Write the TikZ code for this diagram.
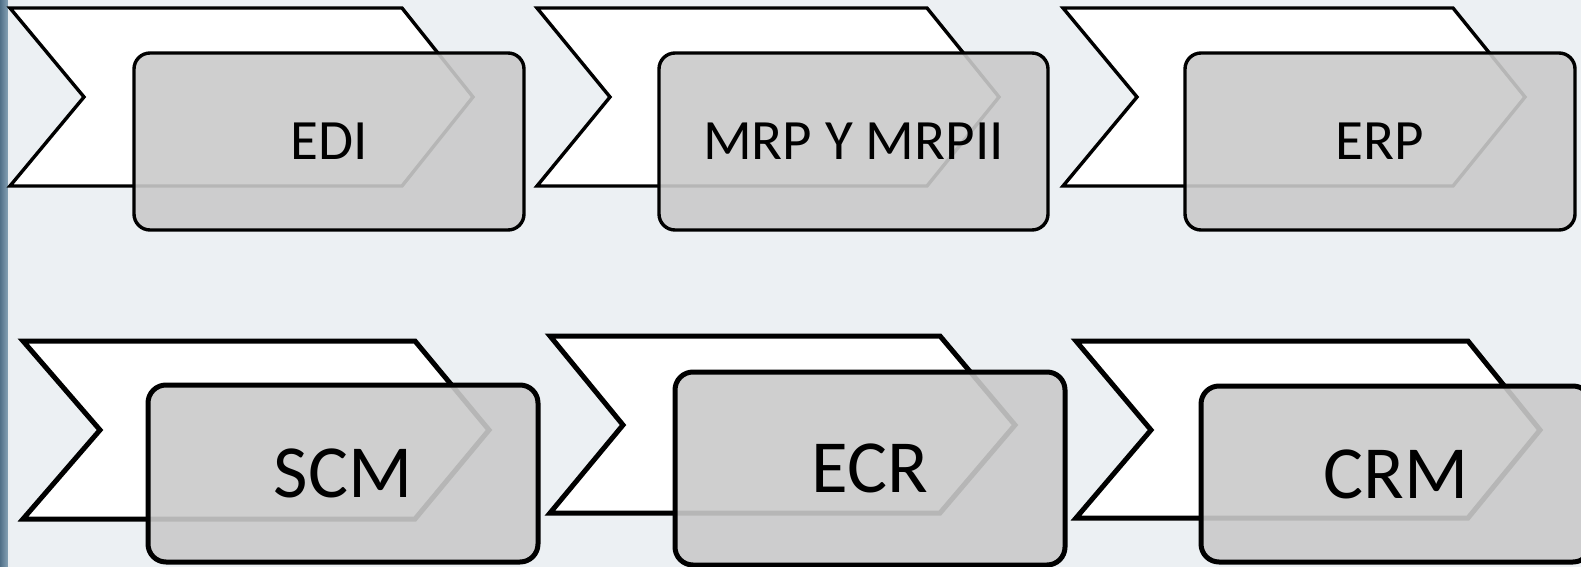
\documentclass[tikz,border=0pt]{standalone}
\usepackage{fontspec}
\setmainfont{Carlito}
\definecolor{bgc}{HTML}{ECF0F3}
\definecolor{stripA}{HTML}{4F6F87}
\definecolor{stripB}{HTML}{86A2B6}
\definecolor{boxc}{RGB}{202,202,202}
\tikzset{
  chevT/.style={draw=black, fill=white, line width=3.4pt, line join=miter},
  chevB/.style={draw=black, fill=white, line width=5pt, line join=miter},
  boxT/.style={draw=black, fill=boxc, fill opacity=0.9, text opacity=1, line width=3.4pt,
    rounded corners=16pt, rectangle, minimum width=390pt, minimum height=177pt, inner sep=0pt,
    font=\fontsize{57}{62}\selectfont},
  boxB/.style={boxT, line width=5pt, rounded corners=18pt, font=\fontsize{75}{80}\selectfont}
}
\begin{document}
\begin{tikzpicture}[x=1pt,y=-1pt]
\useasboundingbox (0,0) rectangle (1581,567);
\fill[bgc] (0,0) rectangle (1581,567);
\shade[left color=stripA, right color=stripB] (0,0) rectangle (8,567);
\fill[white!80!stripB] (8,0) rectangle (9.5,567);
% top row chevrons
\draw[chevT] (10,8) -- (402,8) -- (473,97) -- (402,186) -- (10,186) -- (84,97) -- cycle;
\draw[chevT] (537,8) -- (927,8) -- (999,97) -- (927,186) -- (537,186) -- (610,97) -- cycle;
\draw[chevT] (1063,8) -- (1453,8) -- (1525,97) -- (1453,186) -- (1063,186) -- (1137,97) -- cycle;
% top row boxes
\node[boxT] (r1) at (329,141.5) {EDI};
\node[boxT, minimum width=389pt] (r2) at (853.5,141.5) {MRP Y MRPII};
\node[boxT] (r3) at (1380,141.5) {ERP};
% bottom row chevrons
\draw[chevB] (23,341) -- (415,341) -- (489,430) -- (415,519) -- (23,519) -- (100,430) -- cycle;
\draw[chevB] (550,336) -- (940,336) -- (1015,425) -- (940,513) -- (550,513) -- (623,425) -- cycle;
\draw[chevB] (1076,341) -- (1468,341) -- (1540,430) -- (1468,518) -- (1076,518) -- (1151,430) -- cycle;
% bottom row boxes
\node[boxB] (r4) at (343,473.5) {SCM};
\node[boxB, minimum height=193pt] (r5) at (870,468.5) {ECR};
\node[boxB, minimum height=176pt] (r6) at (1396,474) {CRM};
\end{tikzpicture}
\end{document}
